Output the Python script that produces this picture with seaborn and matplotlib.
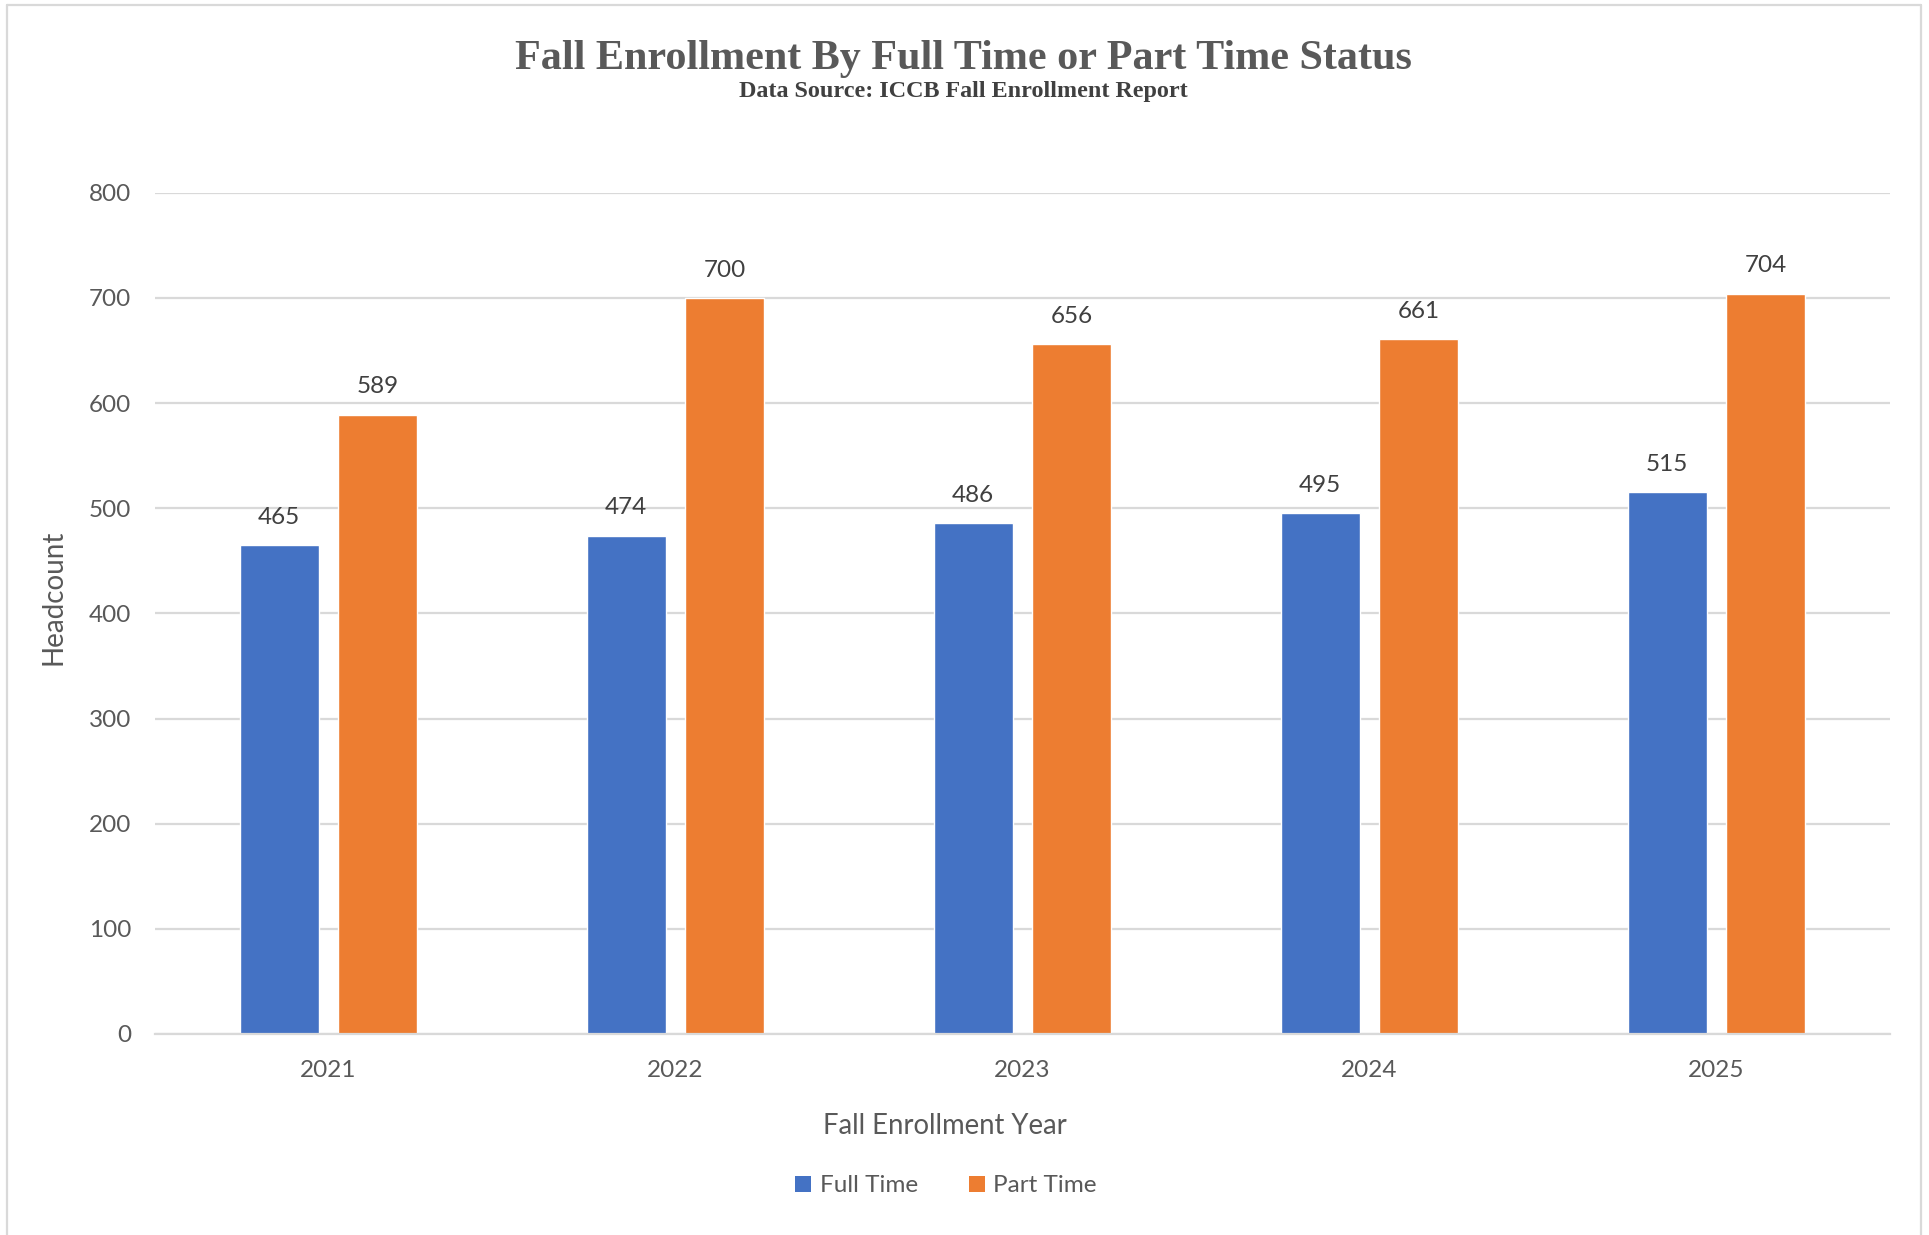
import matplotlib
matplotlib.use("Agg")
import matplotlib.pyplot as plt
from matplotlib.lines import Line2D
from matplotlib.patches import Patch
import seaborn as sns
import pandas as pd

# Enrollment headcounts by year and status
years = ["2021", "2022", "2023", "2024", "2025"]
full_time = [465, 474, 486, 495, 515]
part_time = [589, 700, 656, 661, 704]
statuses = ["Full Time", "Part Time"]
y_ticks = [0, 100, 200, 300, 400, 500, 600, 700, 800]

BLUE = "#4472C4"
ORANGE = "#ED7D31"
GRID = "#D9D9D9"
TEXT = "#595959"

df = pd.DataFrame({
    "Year": years * 2,
    "Headcount": full_time + part_time,
    "Status": [statuses[0]] * len(years) + [statuses[1]] * len(years),
})

sns.set_theme(style="white")
plt.rcParams["font.family"] = ["Lato", "DejaVu Sans"]

W, H = 1929, 1235
fig = plt.figure(figsize=(W / 100, H / 100), dpi=100)
fig.patch.set_facecolor("white")

ax = fig.add_axes([155 / W, 1 - 1034 / H, (1890 - 155) / W, (1034 - 192.7) / H])

sns.barplot(
    data=df, x="Year", y="Headcount", hue="Status",
    palette=[BLUE, ORANGE], width=0.568, gap=0.2, saturation=1,
    legend=False, ax=ax,
)

ax.set_ylim(0, 800)
ax.set_yticks(y_ticks)
ax.yaxis.grid(True, color=GRID, linewidth=1.6)
ax.set_axisbelow(True)
for side in ["left", "right", "top"]:
    ax.spines[side].set_visible(False)
ax.spines["bottom"].set_color(GRID)
ax.spines["bottom"].set_linewidth(1.6)
ax.tick_params(axis="y", length=0, pad=17, labelsize=17.5, labelcolor=TEXT)
ax.tick_params(axis="x", length=0, pad=19, labelsize=17.5, labelcolor=TEXT)
ax.set_xlabel("")
ax.set_ylabel("Headcount", fontsize=20, color=TEXT, labelpad=0)
ax.yaxis.set_label_coords((66 - 155) / (1890 - 155), (1034 - 597) / (1034 - 192.7))

for cont in ax.containers:
    ax.bar_label(cont, padding=12.5, fontsize=17.5, color="#404040")

# Titles
fig.text(963 / W, 1 - 68.5 / H, "Fall Enrollment By Full Time or Part Time Status",
         ha="center", va="baseline", fontsize=30.3, fontweight="bold",
         family=["Liberation Serif"], color="#595959")
fig.text(963 / W, 1 - 97 / H, "Data Source: ICCB Fall Enrollment Report",
         ha="center", va="baseline", fontsize=17.4, fontweight="bold",
         family=["Liberation Serif"], color="#404040")

# X axis title
fig.text(945 / W, 1 - 1126 / H, "Fall Enrollment Year", ha="center", va="center",
         fontsize=19.8, color=TEXT)

# Legend
handles = [Patch(facecolor=BLUE, edgecolor="none"), Patch(facecolor=ORANGE, edgecolor="none")]
fig.legend(handles, statuses, loc="center", bbox_to_anchor=(946 / W, 1 - 1186 / H),
           ncol=2, frameon=False, fontsize=17.5, labelcolor=TEXT,
           handlelength=0.65, handleheight=0.65, handletextpad=0.35, columnspacing=2.1)

# Chart-area border (open at the bottom edge)
bc = "#D9D9D9"
fig.add_artist(Line2D([6.5 / W, 6.5 / W], [0, 1 - 5 / H], transform=fig.transFigure, color=bc, lw=1.6))
fig.add_artist(Line2D([6.5 / W, 1921 / W], [1 - 5 / H, 1 - 5 / H], transform=fig.transFigure, color=bc, lw=1.6))
fig.add_artist(Line2D([1921 / W, 1921 / W], [0, 1 - 5 / H], transform=fig.transFigure, color=bc, lw=1.6))

fig.savefig("out.png", dpi=100, facecolor="white")
